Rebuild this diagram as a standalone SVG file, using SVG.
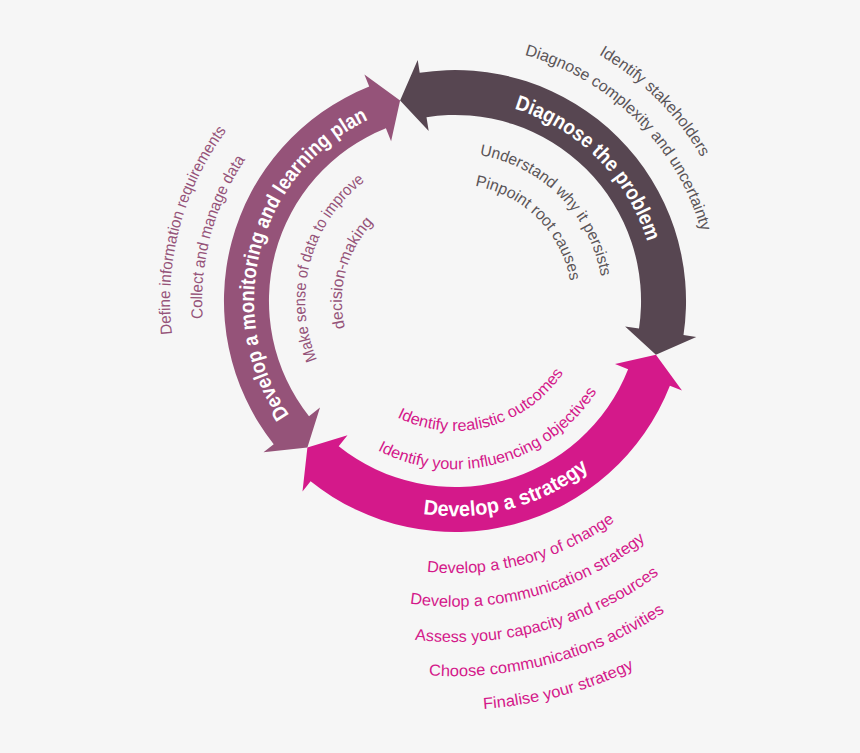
<svg xmlns="http://www.w3.org/2000/svg" xmlns:xlink="http://www.w3.org/1999/xlink" width="860" height="753" viewBox="0 0 860 753">
<style>
text{font-family:"Liberation Sans",Arial,sans-serif;font-size:16px;text-anchor:middle}
.band{font-size:21px;font-weight:bold;fill:#fff}
.g{fill:#5b5558}.p{fill:#955379}.k{fill:#d4198a}
</style>
<defs>
<path id="d201" d="M339.7,136.3 A201,201 0 0 1 619.7,416.3"/>
<path id="d285" d="M291.5,67.5 A285,285 0 0 1 688.5,464.5"/>
<path id="d256" d="M308.2,91.3 A256,256 0 0 1 664.7,447.8"/>
<path id="d148" d="M370.1,179.8 A148,148 0 0 1 576.2,385.9"/>
<path id="d117" d="M387.9,205.2 A117,117 0 0 1 550.8,368.1"/>
<path id="p201" d="M370.1,483.2 A201,201 0 0 1 472.5,100.8"/>
<path id="p285" d="M334.6,559.3 A285,285 0 0 1 479.9,17.1"/>
<path id="p253" d="M348.1,530.3 A253,253 0 0 1 477.1,49.0"/>
<path id="p150" d="M391.6,436.9 A150,150 0 0 1 468.1,151.6"/>
<path id="p113" d="M407.2,403.4 A113,113 0 0 1 464.9,188.4"/>
<path id="k215" d="M260.1,391.9 A215,215 0 0 0 669.2,282.3"/>
<path id="k130" d="M337.2,355.9 A130,130 0 0 0 584.5,289.7"/>
<path id="k168" d="M302.7,372.0 A168,168 0 0 0 622.4,286.4"/>
<path id="k272" d="M208.5,416.0 A272,272 0 0 0 726.0,277.3"/>
<path id="k306" d="M177.7,430.3 A306,306 0 0 0 759.8,274.3"/>
<path id="k341" d="M145.9,445.1 A341,341 0 0 0 794.7,271.3"/>
<path id="k375" d="M115.1,459.5 A375,375 0 0 0 828.6,268.3"/>
<path id="k409" d="M84.3,473.8 A409,409 0 0 0 862.4,265.3"/>
</defs>
<rect width="860" height="753" fill="#f6f6f6"/>
<g id="connectors">
<path id="arrow-diagnose" fill="#574651" d="M400.1,100.4 L417.7,59.9 L419.7,72.7 A231,231 0 0 1 683.5,335.1 L696.3,337.1 L655.9,354.8 L625.1,326.4 L639.0,328.5 A186,186 0 0 0 426.5,117.2 L428.7,131.0 Z"/>
<path id="arrow-monitor" fill="#955379" d="M307.4,447.6 L263.5,452.2 L273.7,444.2 A231,231 0 0 1 369.2,86.5 L364.4,74.4 L400.1,100.4 L391.1,141.3 L385.9,128.3 A186,186 0 0 0 309.0,416.3 L320.0,407.6 Z"/>
<path id="arrow-strategy" fill="#d4198a" d="M655.9,354.8 L682.0,390.4 L669.9,385.7 A231,231 0 0 1 310.6,481.3 L302.5,491.4 L307.4,447.6 L347.5,435.2 L338.7,446.2 A186,186 0 0 0 628.1,369.2 L615.0,364.0 Z"/>
</g>
<g id="node-diagnose">
<text class="band"><textPath xlink:href="#d201" startOffset="50%" textLength="196" lengthAdjust="spacingAndGlyphs">Diagnose the problem</textPath></text>
<text class="g"><textPath xlink:href="#d285" startOffset="50%" textLength="147" lengthAdjust="spacingAndGlyphs">Identify stakeholders</textPath></text>
<text class="g"><textPath xlink:href="#d256" startOffset="50%" textLength="261" lengthAdjust="spacingAndGlyphs">Diagnose complexity and uncertainty</textPath></text>
<text class="g"><textPath xlink:href="#d148" startOffset="50%" textLength="183" lengthAdjust="spacingAndGlyphs">Understand why it persists</textPath></text>
<text class="g"><textPath xlink:href="#d117" startOffset="50%" textLength="143" lengthAdjust="spacingAndGlyphs">Pinpoint root causes</textPath></text>
</g>
<g id="node-monitor">
<text class="band"><textPath xlink:href="#p201" startOffset="50%" textLength="347" lengthAdjust="spacingAndGlyphs">Develop a monitoring and learning plan</textPath></text>
<text class="p"><textPath xlink:href="#p285" startOffset="50%" textLength="216" lengthAdjust="spacingAndGlyphs">Define information requirements</textPath></text>
<text class="p"><textPath xlink:href="#p253" startOffset="50%" textLength="168" lengthAdjust="spacingAndGlyphs">Collect and manage data</textPath></text>
<text class="p"><textPath xlink:href="#p150" startOffset="50%" textLength="199" lengthAdjust="spacingAndGlyphs">Make sense of data to improve</textPath></text>
<text class="p"><textPath xlink:href="#p113" startOffset="50%" textLength="114" lengthAdjust="spacingAndGlyphs">decision-making</textPath></text>
</g>
<g id="node-strategy">
<text class="band"><textPath xlink:href="#k215" startOffset="50%" textLength="177" lengthAdjust="spacingAndGlyphs">Develop a strategy</textPath></text>
<text class="k"><textPath xlink:href="#k130" startOffset="50%" textLength="188" lengthAdjust="spacingAndGlyphs">Identify realistic outcomes</textPath></text>
<text class="k"><textPath xlink:href="#k168" startOffset="50%" textLength="249" lengthAdjust="spacingAndGlyphs">Identify your influencing objectives</textPath></text>
<text class="k"><textPath xlink:href="#k272" startOffset="50%" textLength="199" lengthAdjust="spacingAndGlyphs">Develop a theory of change</textPath></text>
<text class="k"><textPath xlink:href="#k306" startOffset="50%" textLength="251" lengthAdjust="spacingAndGlyphs">Develop a communication strategy</textPath></text>
<text class="k"><textPath xlink:href="#k341" startOffset="50%" textLength="259" lengthAdjust="spacingAndGlyphs">Assess your capacity and resources</textPath></text>
<text class="k"><textPath xlink:href="#k375" startOffset="50%" textLength="249" lengthAdjust="spacingAndGlyphs">Choose communications activities</textPath></text>
<text class="k"><textPath xlink:href="#k409" startOffset="50%" textLength="157" lengthAdjust="spacingAndGlyphs">Finalise your strategy</textPath></text>
</g>
</svg>
